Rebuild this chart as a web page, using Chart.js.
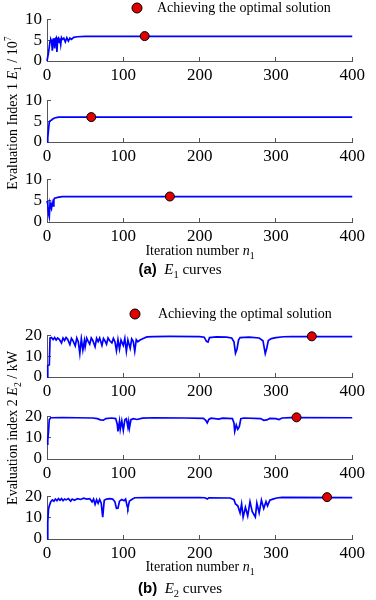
<!DOCTYPE html>
<html>
<head>
<meta charset="utf-8">
<script src="https://cdn.jsdelivr.net/npm/chart.js@4.4.1/dist/chart.umd.min.js"></script>
<style>
    body { margin: 0; background: #fff; }
    #wrap { position: relative; width: 376px; height: 600px; overflow: hidden; font-family: 'Liberation Serif', serif; color: #000; }
    canvas { position: absolute; }
    .txt { position: absolute; white-space: nowrap; line-height: 1; }
    .ctr { transform: translate(-50%, -50%); }
    .rot { transform: translate(-50%, -50%) rotate(-90deg); }
    .dot { position: absolute; width: 9px; height: 9px; border-radius: 50%; background: #e00000; border: 1px solid #000; transform: translate(-50%, -50%); }
    sub, sup { font-size: 0.7em; line-height: 0; }
    .cap b { font-family: 'Liberation Sans', sans-serif; }
</style>
</head>
<body>
<div id="wrap">
    <canvas id="a1" width="355" height="83" style="left:20px;top:2px"></canvas>
    <canvas id="a2" width="355" height="83" style="left:20px;top:83px"></canvas>
    <canvas id="a3" width="355" height="84" style="left:20px;top:162px"></canvas>
    <canvas id="b1" width="355" height="83" style="left:20px;top:318px"></canvas>
    <canvas id="b2" width="355" height="84" style="left:20px;top:399px"></canvas>
    <canvas id="b3" width="355" height="84" style="left:20px;top:479px"></canvas>

    <div class="dot" style="left:137px;top:8px"></div>
    <div class="txt" style="left:157px;top:1px;font-size:14px">Achieving the optimal solution</div>
    <div class="txt rot" style="left:13px;top:113px;font-size:14px">Evaluation Index 1 <i>E</i><sub>1</sub> / 10<sup>7</sup></div>
    <div class="txt ctr" style="left:200px;top:251px;font-size:14px">Iteration number <i>n</i><sub>1</sub></div>
    <div class="txt ctr cap" style="left:180px;top:269px;font-size:15px"><b>(a)</b>&nbsp; <i>E</i><sub>1</sub> curves</div>

    <div class="dot" style="left:135px;top:314px"></div>
    <div class="txt" style="left:158px;top:307px;font-size:14px">Achieving the optimal solution</div>
    <div class="txt rot" style="left:13px;top:428px;font-size:14px">Evaluation index 2 <i>E</i><sub>2</sub> / kW</div>
    <div class="txt ctr" style="left:200px;top:567px;font-size:14px">Iteration number <i>n</i><sub>1</sub></div>
    <div class="txt ctr cap" style="left:180px;top:588px;font-size:15px"><b>(b)</b>&nbsp; <i>E</i><sub>2</sub> curves</div>
</div>
<script>
// ==========================================
// Data (iteration, value)
// ==========================================
const xTicks = [0, 100, 200, 300, 400];
const yTicksA = [0, 5, 10];
const yTicksB = [0, 10, 20];

const a1Curve = [[0,0],[2,2],[4,4.8],[5,5.2],[6,4.8],[7,2.5],[8,5.2],[9,5.5],[10,3],[11,5.3],[12,5.6],[13,2.2],
    [14,5.4],[15,5.6],[16,4.5],[17,5.5],[18,4],[19,5.6],[20,5.2],[22,5.5],[24,4.6],[26,5.6],[28,4.8],[30,5.5],
    [32,5.2],[35,5.7],[40,5.85],[50,5.95],[400,5.95]];
const a2Curve = [[0,0],[1,1],[2,3],[3,4.8],[4,5.1],[6,5.3],[8,5.6],[10,5.8],[15,6],[400,6]];
const a3Curve = [[0,5],[1,4.2],[2,2],[3,1.2],[4,4.5],[5,3.8],[6,3.3],[7,4.5],[8,3.8],[9,5.3],[10,5.6],[14,5.8],
    [20,5.95],[400,5.95]];

const b1Curve = [[0,0],[1,5.5],[3,5.8],[4,18.8],[6,19],[8,18],[10,19],[12,17.8],[14,18.8],[16,18.2],[19,16.4],
    [21,18.8],[23,17.6],[25,19],[27,18.2],[30,15.6],[32,18.6],[34,17.5],[37,15],[39,18.8],[41,17],[43,11.3],
    [45,18.5],[47,13],[49,17.5],[50,14.6],[52,18.8],[54,17.2],[56,15.8],[58,18.8],[60,17.6],[63,14.6],[65,18.6],
    [67,17],[69,18.8],[72,15.2],[74,18.6],[76,17.4],[78,15.8],[80,18.8],[82,17.6],[85,16.4],[87,18.6],[89,17],
    [91,12.7],[93,18],[95,13.5],[97,17.8],[100,15.2],[102,18.6],[104,12.4],[106,17.8],[109,13.8],[111,18.4],
    [113,17.2],[115,12.4],[117,18],[119,17],[122,17.8],[126,18.6],[131,19.3],[140,19.5],[160,19.6],[200,19.5],
    [206,19.2],[209,17.2],[211,16.8],[213,19],[222,19.3],[235,19.2],[242,18.8],[245,17],[247,11.5],[249,13.5],
    [251,17.8],[253,19],[265,19.2],[278,18.8],[283,17.5],[286,11.3],[288,14],[290,17.6],[294,18.5],[300,19],
    [310,19.4],[320,19.5],[400,19.5]];
const b2Curve = [[0,7],[1,9],[2,13],[3,18.5],[5,19.4],[20,19.5],[40,19.4],[60,19.3],[66,19],[70,18.4],[74,18.3],
    [77,19],[85,19.3],[90,19],[92,16.5],[93,13],[95,17.8],[96,14],[98,18],[100,13.5],[102,18.5],[104,19],[106,15],
    [107,17.5],[108,14.5],[110,18.5],[113,19],[118,18.6],[125,19.2],[140,19.4],[180,19.3],[205,19.1],[208,18.2],
    [210,17],[212,18.6],[215,19.2],[225,18.8],[230,19.2],[243,19],[245,17],[246,13],[248,16],[250,14],[252,15.2],
    [254,19],[258,19.3],[280,19],[284,18.2],[288,18.4],[292,19.1],[300,19],[304,18.6],[308,19.3],[320,19.5],
    [400,19.4]];
const b3Curve = [[0,0],[1,8],[2,14],[3,15.6],[5,17.6],[7,18.4],[9,17.8],[11,18.8],[13,18],[15,19],[17,18.2],
    [19,19],[21,18],[23,18.8],[25,18.4],[28,19],[31,17.8],[33,18.8],[36,18.2],[40,19],[44,18.6],[48,19.2],[52,18.8],
    [56,19],[59,17.5],[61,18.8],[63,16.3],[65,18.5],[67,16.8],[69,18.6],[71,17],[73,10.3],[75,18.2],[78,18.8],
    [82,19],[86,18.8],[89,17.5],[91,14.4],[93,14.5],[95,17.8],[98,18.6],[101,18],[103,18.8],[105,15.5],[106,14.5],
    [108,17.8],[111,18.6],[115,19.4],[130,19.5],[200,19.5],[207,19.4],[210,18.8],[212,19.4],[240,19.3],[245,18.5],
    [247,16.5],[250,15.6],[253,12.3],[255,16.5],[257,10.3],[260,14.9],[263,10.9],[266,17.6],[269,12.9],[273,10.3],
    [275,16.9],[278,12.3],[281,18.3],[284,14.3],[287,17.6],[289,15.6],[292,18.3],[297,18.9],[301,19.3],[308,19.6],
    [400,19.5]];

// optimal solution reached (iteration, value)
const a1Best = [128, 6];
const a2Best = [58, 6];
const a3Best = [161, 6];
const b1Best = [347, 19.6];
const b2Best = [327, 19.6];
const b3Best = [367, 19.7];

// ==========================================
// Chart builder
// ==========================================
const AXIS = '#555';
const TICK_FONT = { family: 'Liberation Serif', size: 17, lineHeight: 1 };

const toXY = (arr) => arr.map(p => ({ x: p[0], y: p[1] }));
const fixedTicks = (vals) => (scale) => { scale.ticks = vals.map(v => ({ value: v })); };

function makePlot(id, curve, best, yTicks) {
    const ctx = document.getElementById(id).getContext('2d');
    return new Chart(ctx, {
        type: 'line',
        data: {
            datasets: [
                {
                    data: toXY([best]),
                    showLine: false,
                    pointRadius: 4.5,
                    pointBackgroundColor: '#e00000',
                    pointBorderColor: '#000',
                    pointBorderWidth: 1,
                    clip: false,
                    order: 0
                },
                {
                    data: toXY(curve),
                    borderColor: '#0000ff',
                    borderWidth: 1.7,
                    pointRadius: 0,
                    tension: 0,
                    fill: false,
                    clip: 2,
                    order: 1
                }
            ]
        },
        options: {
            responsive: false,
            animation: false,
            events: [],
            layout: { padding: { top: 10, right: 18, left: 0, bottom: 0 } },
            scales: {
                x: {
                    type: 'linear', min: 0, max: 400,
                    afterBuildTicks: fixedTicks(xTicks),
                    afterFit: (s) => { s.height = 24; },
                    border: { color: AXIS, width: 1 },
                    grid: { drawOnChartArea: false, tickLength: -4, color: AXIS },
                    ticks: { font: TICK_FONT, color: '#000', padding: 10, maxRotation: 0,
                             autoSkip: false, source: 'data', autoSkipPadding: 0 }
                },
                y: {
                    type: 'linear', min: yTicks[0], max: yTicks[yTicks.length - 1],
                    afterBuildTicks: fixedTicks(yTicks),
                    afterFit: (s) => { s.width = 27; },
                    border: { color: AXIS, width: 1 },
                    grid: { drawOnChartArea: false, tickLength: -4, color: AXIS },
                    ticks: { font: TICK_FONT, color: '#000', padding: 9,
                             autoSkip: false, source: 'data', autoSkipPadding: 0 }
                }
            },
            plugins: {
                legend: { display: false },
                tooltip: { enabled: false }
            }
        }
    });
}

makePlot('a1', a1Curve, a1Best, yTicksA);
makePlot('a2', a2Curve, a2Best, yTicksA);
makePlot('a3', a3Curve, a3Best, yTicksA);
makePlot('b1', b1Curve, b1Best, yTicksB);
makePlot('b2', b2Curve, b2Best, yTicksB);
makePlot('b3', b3Curve, b3Best, yTicksB);
</script>
</body>
</html>
